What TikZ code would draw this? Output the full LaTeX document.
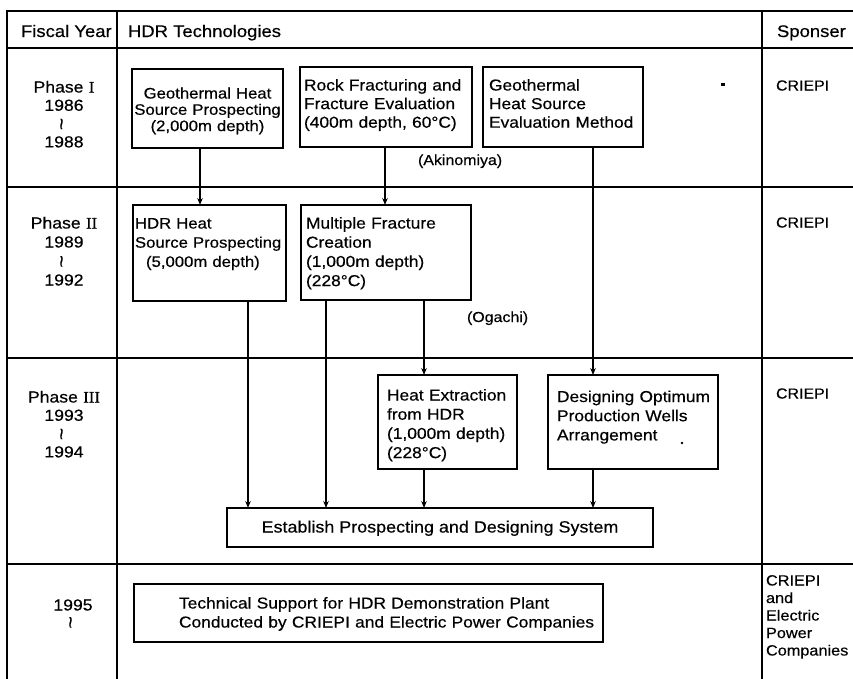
\documentclass[tikz,border=0pt]{standalone}
\usepackage{graphicx}
\usepackage{fontspec}
\setmainfont{Liberation Sans}[FakeStretch=1.1,FakeBold=0.4]
\newfontfamily\romfont{Liberation Serif}[FakeStretch=1.05,FakeBold=0.4]
\usetikzlibrary{arrows.meta}
\newcommand\fsz[2]{\fontsize{#1}{#2}\selectfont}
\newcommand\wavy{\raisebox{-1pt}{\rotatebox{90}{\fontsize{19}{19}\selectfont\textasciitilde}}}
\begin{document}
\begin{tikzpicture}[x=1pt,y=-1pt,
  tline/.style={line width=1.4pt,line cap=rect},
  bx/.style={draw,line width=1.2pt,inner sep=0pt,outer sep=0pt,anchor=north west},
  tx/.style={inner sep=0pt,outer sep=0pt,anchor=base west,align=left,text width=500pt,font=\fsz{15.8}{19.2}},
  tc/.style={inner sep=0pt,outer sep=0pt,anchor=base,align=center,text width=200pt},
  hd/.style={inner sep=0pt,outer sep=0pt,anchor=base west,font=\fsz{16.8}{20}},
  arr/.style={line width=1.2pt,-{Stealth[length=7pt,width=5.5pt]}},
]
\fill[white] (0,0) rectangle (853,678);
\useasboundingbox (0,0) rectangle (853,678);

% table grid
\foreach \y in {11,48,187,358,564} \draw[tline] (7,\y) -- (853,\y);
\foreach \x in {7,117,762} \draw[tline] (\x,11) -- (\x,678);

% header
\node[hd] (hfy) at (21,37) {Fiscal Year};
\node[hd] (hhdr) at (128,37) {HDR Technologies};
\node[hd] (hsp) at (777,37) {Sponser};

% fiscal years
\node[tc,font=\fsz{16}{18.3}] (ph1) at (64,92.5) {Phase {\romfont I}\\1986\\\wavy\\1988};
\node[tc,font=\fsz{16}{19}] (ph2) at (64,228.5) {Phase {\romfont II}\\1989\\\wavy\\1992};
\node[tc,font=\fsz{16}{18.3}] (ph3) at (64,402.5) {Phase {\romfont III}\\1993\\\wavy\\1994};
\node[tc,font=\fsz{16}{17}] (ph4) at (73,610.5) {1995\\\wavy};

% Phase I boxes
\node[bx,minimum width=151pt,minimum height=79pt] (gh) at (132,69) {};
\node[tc,font=\fsz{15.2}{16.3}] (ght) at (207.5,98.5) {Geothermal Heat\\Source Prospecting\\(2,000m depth)};

\node[bx,minimum width=172pt,minimum height=80pt] (rf) at (300,67) {};
\node[tx,font=\fsz{15.8}{18.6}] (rft) at (304,90.5) {Rock Fracturing and\\Fracture Evaluation\\(400m depth, 60°C)};

\node[bx,minimum width=160pt,minimum height=80pt] (gs) at (483,67) {};
\node[tx,font=\fsz{15.8}{18.6}] (gst) at (489,90.5) {Geothermal\\Heat Source\\Evaluation Method};

\node[tx,font=\fsz{14.5}{16}] (ak) at (418,165) {(Akinomiya)};

% Phase II boxes
\node[bx,minimum width=153pt,minimum height=96pt] (hs) at (133,205) {};
\node[tx,font=\fsz{15.2}{19.2}] (hst) at (135,228.5) {HDR Heat\\Source Prospecting\\\hspace*{11pt}(5,000m depth)};

\node[bx,minimum width=170pt,minimum height=95pt] (mf) at (301,205) {};
\node[tx] (mft) at (306,228.5) {Multiple Fracture\\Creation\\(1,000m depth)\\(228°C)};

\node[tx,font=\fsz{14.5}{16}] (og) at (467,322) {(Ogachi)};

% Phase III boxes
\node[bx,minimum width=139pt,minimum height=94pt] (he) at (378,375) {};
\node[tx] (het) at (387,400.5) {Heat Extraction\\from HDR\\(1,000m depth)\\(228°C)};

\node[bx,minimum width=170pt,minimum height=94pt] (dp) at (548,375) {};
\node[tx] (dpt) at (557,402) {Designing Optimum\\Production Wells\\Arrangement};

\node[bx,minimum width=426pt,minimum height=39pt] (es) at (227,508) {};
\node[inner sep=0pt,anchor=base,font=\fsz{16.3}{19}] (est) at (440,532.5) {Establish Prospecting and Designing System};

% 1995 box
\node[bx,minimum width=469pt,minimum height=58pt] (ts) at (134,584) {};
\node[tx,font=\fsz{15.8}{19}] (tst) at (179,608.5) {Technical Support for HDR Demonstration Plant\\Conducted by CRIEPI and Electric Power Companies};

% sponsors
\node[tx,font=\fsz{14.5}{17}] (sp1) at (776,90.5) {CRIEPI};
\node[tx,font=\fsz{14.5}{17}] (sp2) at (776,227.5) {CRIEPI};
\node[tx,font=\fsz{14.5}{17}] (sp3) at (776,398.5) {CRIEPI};
\node[tx,font=\fsz{14.8}{17.5}] (sp4) at (766,585.5) {CRIEPI\\and\\Electric\\Power\\Companies};

% connector x positions
\coordinate (xa) at (200,0);
\coordinate (xb) at (385,0);
\coordinate (xc) at (593,0);
\coordinate (xd) at (248,0);
\coordinate (xe) at (326,0);
\coordinate (xf) at (424,0);

\draw[arr] (gh.south -| xa) -- (hs.north -| xa);
\draw[arr] (rf.south -| xb) -- (mf.north -| xb);
\draw[arr] (gs.south -| xc) -- (dp.north -| xc);
\draw[arr] (hs.south -| xd) -- (es.north -| xd);
\draw[arr] (mf.south -| xe) -- (es.north -| xe);
\draw[arr] (mf.south -| xf) -- (he.north -| xf);
\draw[arr] (he.south -| xf) -- (es.north -| xf);
\draw[arr] (dp.south -| xc) -- (es.north -| xc);

% stray print marks
\fill (721,83) rectangle (725,85.5);
\fill (682,443) circle (1.3);
\end{tikzpicture}
\end{document}
